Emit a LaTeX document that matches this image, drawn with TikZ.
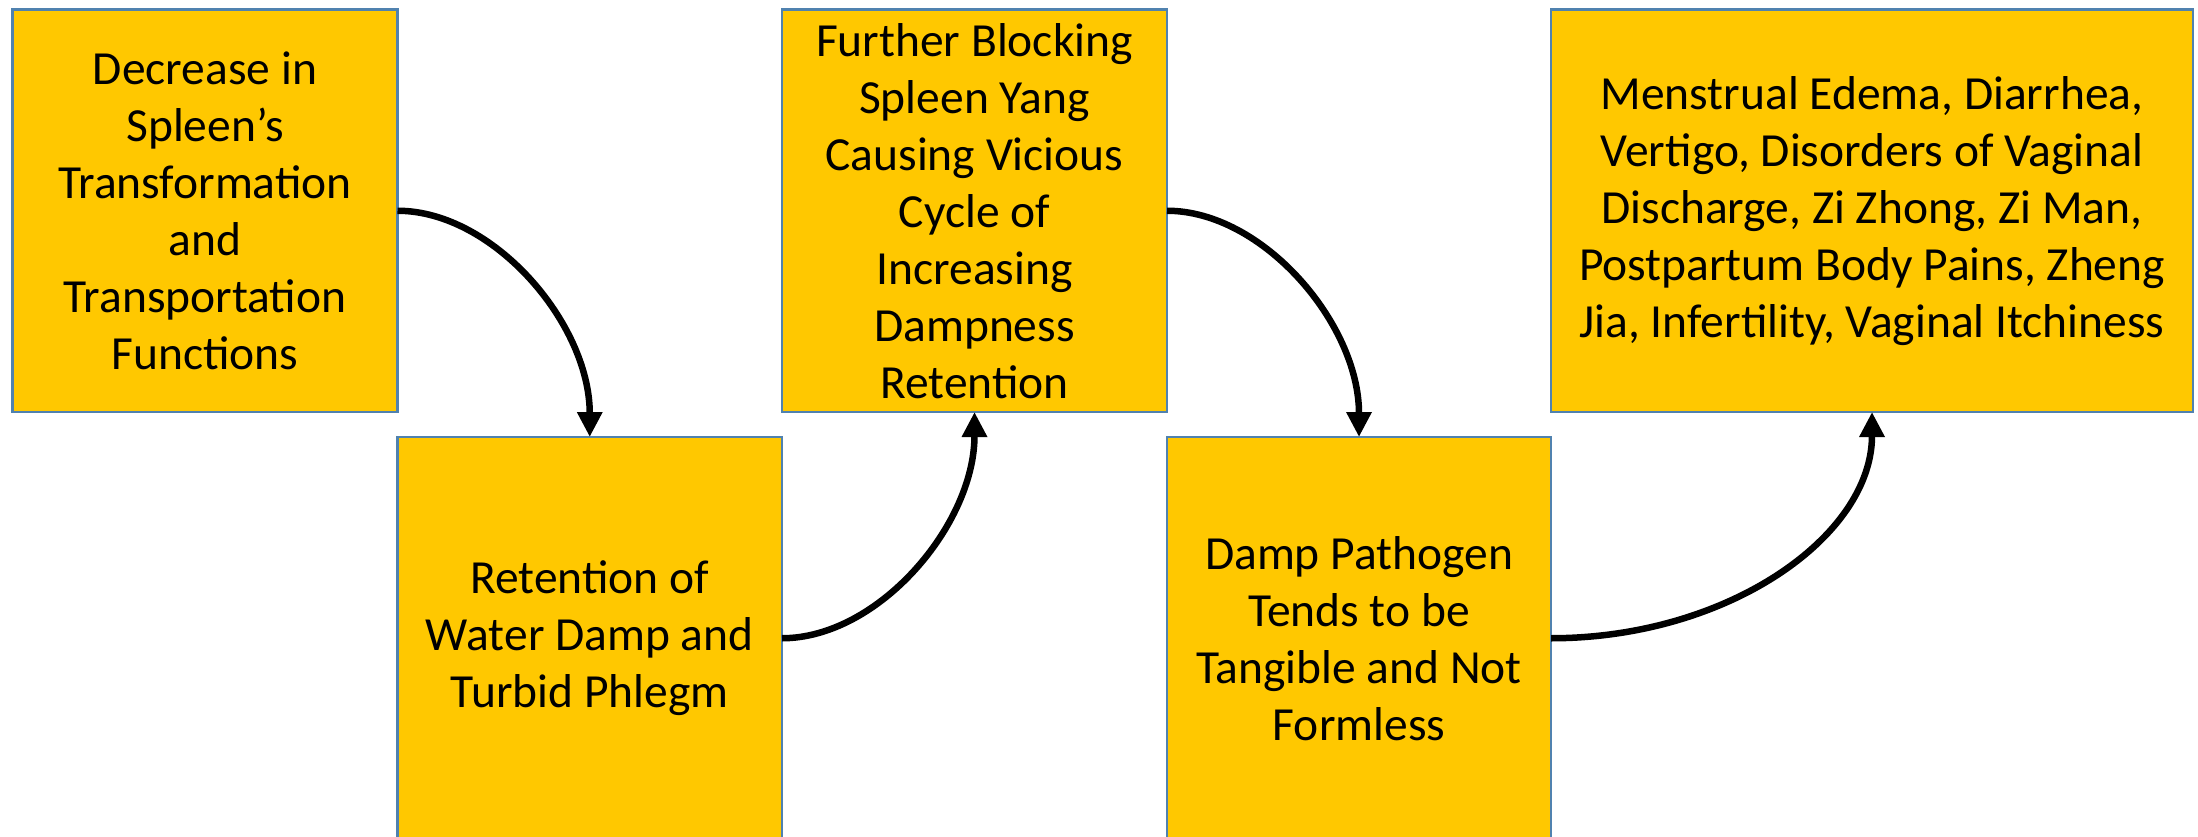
\documentclass[tikz,border=0pt]{standalone}
\usepackage{fontspec}
\setmainfont{Carlito}
\usetikzlibrary{arrows.meta,calc}
\definecolor{boxfill}{HTML}{FFC800}
\definecolor{boxline}{RGB}{80,130,175}
\begin{document}
\begin{tikzpicture}[x=1pt,y=-1pt,
  box/.style={draw=boxline, fill=boxfill, line width=2.5pt, inner sep=0pt, outer sep=0pt,
    align=center, minimum height=402.5pt, font=\fontsize{47.5}{57}\selectfont},
  flow/.style={line width=6.5pt, -{Triangle[length=25pt,width=24pt]}}]
\useasboundingbox (0,0) rectangle (2198,837);
\clip (0,0) rectangle (2198,837);
\node[box, minimum width=385pt] (b1) at (205,210.75) {Decrease in\\Spleen’s\\Transformation\\and\\Transportation\\Functions};
\node[box, minimum width=384.5pt] (b2) at (589.75,638.25) {Retention of\\Water Damp and\\Turbid Phlegm};
\node[box, minimum width=385pt] (b3) at (974.5,210.75) {Further Blocking\\Spleen Yang\\Causing Vicious\\Cycle of\\Increasing\\Dampness\\Retention};
\node[box, minimum width=384pt] (b4) at (1359,638.25) {Damp Pathogen\\Tends to be\\Tangible and Not\\Formless};
\node[box, minimum width=642pt] (b5) at (1872,210.75) {Menstrual Edema, Diarrhea,\\Vertigo, Disorders of Vaginal\\Discharge, Zi Zhong, Zi Man,\\Postpartum Body Pains, Zheng\\Jia, Infertility, Vaginal Itchiness};
\coordinate (c1) at (b1.east -| b2.north);
\coordinate (c2) at (b2.east -| b3.south);
\coordinate (c3) at (b3.east -| b4.north);
\coordinate (c4) at (b4.east -| b5.south);
\draw[flow] (b1.east) .. controls ($(b1.east)!0.5!(c1)$) and ($(b2.north)!0.5!(c1)$) .. (b2.north);
\draw[flow] (b2.east) .. controls ($(b2.east)!0.5!(c2)$) and ($(b3.south)!0.5!(c2)$) .. (b3.south);
\draw[flow] (b3.east) .. controls ($(b3.east)!0.5!(c3)$) and ($(b4.north)!0.5!(c3)$) .. (b4.north);
\draw[flow] (b4.east) .. controls ($(b4.east)!0.55!(c4)$) and ($(b5.south)!0.55!(c4)$) .. (b5.south);
\end{tikzpicture}
\end{document}
